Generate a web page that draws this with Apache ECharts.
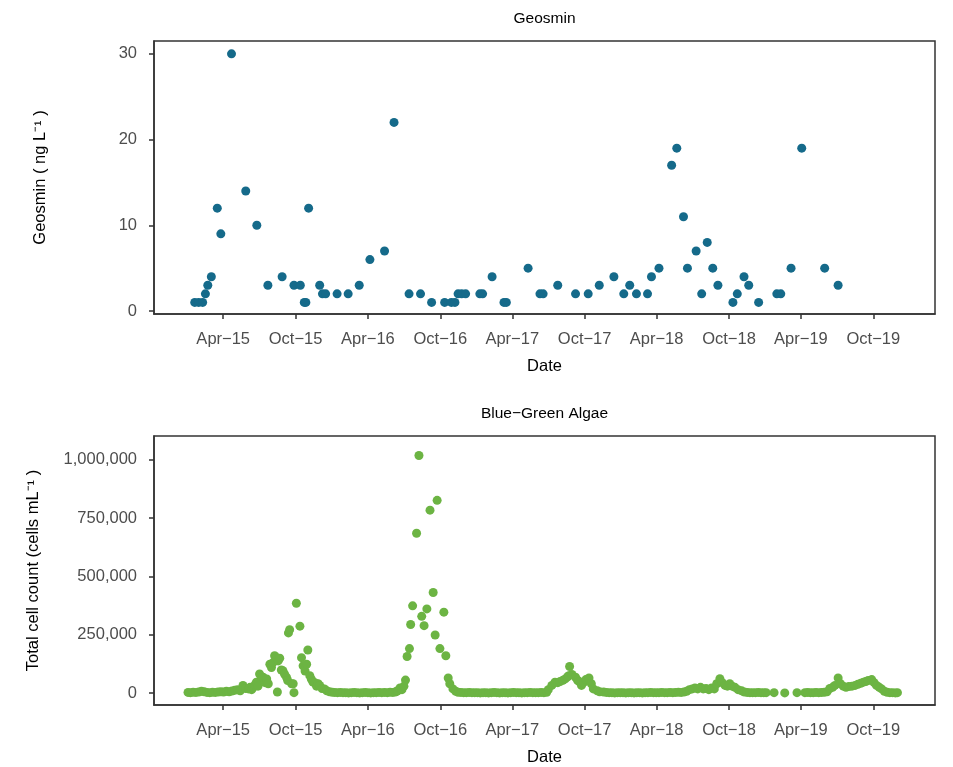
<!DOCTYPE html>
<html><head><meta charset="utf-8">
<script src="https://cdn.jsdelivr.net/npm/echarts@6/dist/echarts.min.js"></script>
<style>html,body{margin:0;padding:0;background:#fff}#c{width:953px;height:767px}</style>
</head><body><div id="c"></div>
<script>
const xTickDates = ["2015-04-01","2015-10-01","2016-04-01","2016-10-01","2017-04-01","2017-10-01","2018-04-01","2018-10-01","2019-04-01","2019-10-01"];
const xTickLabels = ["Apr\u221215","Oct\u221215","Apr\u221216","Oct\u221216","Apr\u221217","Oct\u221217","Apr\u221218","Oct\u221218","Apr\u221219","Oct\u221219"];
const geosminTicks = [0, 10, 20, 30];
const algaeTicks = [0, 250000, 500000, 750000, 1000000];

const geosminDates = ["2015-01-19","2015-01-29","2015-02-08","2015-02-15","2015-02-21","2015-03-02","2015-03-17","2015-03-26","2015-04-22","2015-05-28",
"2015-06-25","2015-07-23","2015-08-28","2015-09-27","2015-10-13","2015-10-23","2015-10-27","2015-11-03","2015-12-01","2015-12-08",
"2015-12-16","2016-01-14","2016-02-11","2016-03-10","2016-04-06","2016-05-13","2016-06-06","2016-07-14","2016-08-12","2016-09-09",
"2016-10-12","2016-10-29","2016-11-07","2016-11-15","2016-11-24","2016-12-04","2017-01-09","2017-01-16","2017-02-09","2017-03-11",
"2017-03-17","2017-05-11","2017-06-10","2017-06-18","2017-07-25","2017-09-08","2017-10-10","2017-11-07","2017-12-14","2018-01-08",
"2018-01-23","2018-02-09","2018-03-09","2018-03-19","2018-04-07","2018-05-09","2018-05-22","2018-06-08","2018-06-18","2018-07-10",
"2018-07-24","2018-08-07","2018-08-21","2018-09-03","2018-10-11","2018-10-22","2018-11-08","2018-11-20","2018-12-15","2019-01-30",
"2019-02-09","2019-03-07","2019-04-03","2019-05-31","2019-07-04"];
const geosminValues = [1,1,1,2,3,4,12,9,30,14,
10,3,4,3,3,1,1,12,3,2,
2,2,2,3,6,7,22,2,2,1,
1,1,1,2,2,2,2,2,4,1,
1,5,2,2,3,2,2,3,4,2,
3,2,2,4,5,17,19,11,5,7,
2,8,5,3,1,2,4,3,1,2,
2,5,19,5,3];

const algaeSamples = [
["2015-01-02",3000],["2015-01-08",2000],["2015-01-15",4000],["2015-01-22",3000],["2015-01-29",5000],
["2015-02-05",8000],["2015-02-12",6000],["2015-02-19",3000],["2015-02-26",2000],
["2015-03-05",4000],["2015-03-12",3000],["2015-03-19",5000],["2015-03-26",6000],
["2015-04-02",5000],["2015-04-09",8000],["2015-04-16",6000],["2015-04-23",9000],["2015-04-30",12000],
["2015-05-07",15000],["2015-05-14",10000],["2015-05-21",33000],["2015-05-28",20000],
["2015-06-04",18000],["2015-06-08",25000],["2015-06-12",15000],["2015-06-16",25000],["2015-06-20",35000],["2015-06-24",47000],["2015-06-28",30000],
["2015-07-02",82000],["2015-07-07",55000],["2015-07-11",68000],["2015-07-16",45000],["2015-07-20",61000],["2015-07-24",40000],["2015-07-28",124000],
["2015-08-01",110000],["2015-08-05",131000],["2015-08-09",160000],["2015-08-14",152000],["2015-08-16",5000],["2015-08-18",138000],["2015-08-22",150000],["2015-08-26",99000],["2015-08-30",96000],
["2015-09-03",82000],["2015-09-08",68000],["2015-09-11",54000],["2015-09-13",258000],["2015-09-16",272000],["2015-09-21",40000],["2015-09-25",40000],["2015-09-27",2000],
["2015-10-03",385000],["2015-10-12",287000],["2015-10-16",152000],["2015-10-20",117000],["2015-10-25",95000],["2015-10-29",124000],
["2015-11-01",185000],["2015-11-06",75000],["2015-11-10",60000],["2015-11-14",47000],["2015-11-19",45000],["2015-11-23",30000],["2015-11-27",40000],
["2015-12-01",33000],["2015-12-07",20000],["2015-12-13",18000],["2015-12-19",10000],["2015-12-26",6000],
["2016-01-02",4000],["2016-01-08",3000],["2016-01-15",2000],["2016-01-22",3000],["2016-01-29",2000],
["2016-02-05",2000],["2016-02-12",1000],["2016-02-19",2000],["2016-02-26",3000],
["2016-03-04",2000],["2016-03-11",1000],["2016-03-18",2000],["2016-03-25",3000],
["2016-04-01",2000],["2016-04-08",1000],["2016-04-15",2000],["2016-04-22",2000],["2016-04-29",3000],
["2016-05-06",2000],["2016-05-13",3000],["2016-05-20",2000],["2016-05-27",4000],
["2016-06-03",3000],["2016-06-09",5000],["2016-06-13",8000],["2016-06-16",11000],["2016-06-21",22000],["2016-06-26",15000],
["2016-07-01",30000],["2016-07-05",56000],["2016-07-09",157000],["2016-07-15",191000],["2016-07-18",294000],["2016-07-23",374000],
["2016-08-02",685000],["2016-08-08",1018000],["2016-08-15",329000],["2016-08-21",289000],["2016-08-28",361000],
["2016-09-05",784000],["2016-09-13",431000],["2016-09-18",249000],["2016-09-23",826000],["2016-09-30",191000],
["2016-10-10",347000],["2016-10-15",160000],["2016-10-21",65000],["2016-10-25",40000],
["2016-11-02",18000],["2016-11-09",8000],["2016-11-15",4000],["2016-11-22",3000],["2016-11-29",2000],
["2016-12-06",2000],["2016-12-13",3000],["2016-12-20",2000],["2016-12-27",2000],
["2017-01-03",2000],["2017-01-10",1000],["2017-01-17",2000],["2017-01-24",2000],["2017-01-31",1000],
["2017-02-07",2000],["2017-02-14",3000],["2017-02-21",2000],["2017-02-28",1000],
["2017-03-07",2000],["2017-03-14",2000],["2017-03-21",1000],["2017-03-28",2000],
["2017-04-04",3000],["2017-04-11",2000],["2017-04-18",2000],["2017-04-25",1000],
["2017-05-02",2000],["2017-05-09",2000],["2017-05-16",3000],["2017-05-23",2000],["2017-05-30",2000],
["2017-06-06",2000],["2017-06-13",3000],["2017-06-20",2000],["2017-06-27",4000],
["2017-07-01",15000],["2017-07-10",33000],["2017-07-18",47000],["2017-07-25",45000],["2017-07-31",50000],
["2017-08-07",55000],["2017-08-13",61000],["2017-08-19",70000],["2017-08-22",75000],["2017-08-24",114000],["2017-08-30",80000],
["2017-09-08",68000],["2017-09-13",55000],["2017-09-17",50000],["2017-09-23",33000],["2017-09-28",45000],
["2017-10-04",58000],["2017-10-12",65000],["2017-10-18",40000],["2017-10-23",18000],
["2017-11-02",10000],["2017-11-08",6000],["2017-11-18",5000],["2017-11-25",3000],
["2017-12-02",2000],["2017-12-09",2000],["2017-12-16",1000],["2017-12-23",2000],["2017-12-30",2000],
["2018-01-06",2000],["2018-01-13",1000],["2018-01-20",2000],["2018-01-27",2000],
["2018-02-03",1000],["2018-02-10",2000],["2018-02-17",2000],["2018-02-24",1000],
["2018-03-03",2000],["2018-03-10",2000],["2018-03-17",3000],["2018-03-24",2000],["2018-03-31",2000],
["2018-04-07",2000],["2018-04-14",3000],["2018-04-21",2000],["2018-04-28",2000],
["2018-05-05",3000],["2018-05-12",2000],["2018-05-19",3000],["2018-05-26",4000],
["2018-06-02",3000],["2018-06-09",5000],["2018-06-16",8000],["2018-06-23",15000],["2018-06-30",18000],
["2018-07-07",22000],["2018-07-14",18000],["2018-07-21",25000],["2018-07-28",18000],
["2018-08-04",20000],["2018-08-11",15000],["2018-08-18",22000],["2018-08-25",18000],["2018-08-31",40000],
["2018-09-08",62000],["2018-09-14",45000],["2018-09-21",33000],["2018-09-27",30000],
["2018-10-03",40000],["2018-10-09",30000],["2018-10-16",25000],["2018-10-24",15000],
["2018-11-02",10000],["2018-11-09",5000],["2018-11-16",3000],["2018-11-23",2000],["2018-11-30",2000],
["2018-12-07",2000],["2018-12-14",3000],["2018-12-21",2000],["2018-12-28",2000],
["2019-01-03",2000],["2019-01-23",2000],["2019-02-19",1000],["2019-03-22",2000],
["2019-04-11",2000],["2019-04-18",3000],["2019-04-25",2000],
["2019-05-02",2000],["2019-05-09",3000],["2019-05-16",2000],["2019-05-23",3000],["2019-05-30",4000],
["2019-06-06",6000],["2019-06-13",20000],["2019-06-20",25000],["2019-06-26",33000],
["2019-07-04",65000],["2019-07-10",40000],["2019-07-17",30000],["2019-07-24",25000],["2019-07-31",28000],
["2019-08-08",30000],["2019-08-16",33000],["2019-08-23",38000],["2019-08-30",42000],
["2019-09-06",47000],["2019-09-12",50000],["2019-09-18",54000],["2019-09-27",58000],
["2019-10-03",45000],["2019-10-09",33000],["2019-10-16",25000],["2019-10-22",18000],["2019-10-29",8000],
["2019-11-05",4000],["2019-11-12",2000],["2019-11-19",2000],["2019-11-26",1000],["2019-12-01",2000]
];

function ts(s) { const p = s.split('-').map(Number); return Date.UTC(p[0], p[1] - 1, p[2]); }
const tickTs = xTickDates.map(ts);
const FONT = "'Liberation Sans', Arial, sans-serif";
const AX = '#333333';
const LBL = '#4d4d4d';
const TICK_FS = 16.5;
const NAME_FS = 16.5;

function xAxisCfg(gi) {
  return {
    type: 'value', gridIndex: gi,
    min: ts('2014-10-08'), max: ts('2020-03-05'),
    name: 'Date', nameLocation: 'middle', nameGap: 44,
    nameTextStyle: { color: '#000', fontSize: NAME_FS, fontFamily: FONT },
    axisLine: { show: true, onZero: false, lineStyle: { color: AX, width: 1.5 } },
    axisTick: { show: true, length: 5, inside: false, customValues: tickTs, lineStyle: { color: AX, width: 1.5 } },
    axisLabel: { show: true, customValues: tickTs, margin: 17, color: LBL, fontSize: TICK_FS, fontFamily: FONT,
      formatter: function (v) { const i = tickTs.indexOf(v); return i >= 0 ? xTickLabels[i] : ''; } },
    splitLine: { show: false }
  };
}

function yAxisCfg(gi, min, max, ticks, name, gap, fmt) {
  return {
    type: 'value', gridIndex: gi, min: min, max: max,
    name: name, nameLocation: 'middle', nameGap: gap,
    nameTextStyle: { color: '#000', fontSize: NAME_FS, fontFamily: FONT },
    axisLine: { show: true, onZero: false, lineStyle: { color: AX, width: 1.5 } },
    axisTick: { show: true, length: 5, customValues: ticks, lineStyle: { color: AX, width: 1.5 } },
    axisLabel: { show: true, customValues: ticks, margin: 17, color: LBL, fontSize: TICK_FS, fontFamily: FONT, formatter: fmt },
    splitLine: { show: false }
  };
}

const chart = echarts.init(document.getElementById('c'), null, { renderer: 'canvas' });
chart.setOption({
  animation: false,
  backgroundColor: '#ffffff',
  grid: [
    { left: 154, right: 18, top: 41, height: 273, show: true, borderColor: AX, borderWidth: 1.5, backgroundColor: 'transparent' },
    { left: 154, right: 18, top: 436, height: 272, show: true, borderColor: AX, borderWidth: 1.5, backgroundColor: 'transparent' }
  ],
  xAxis: [xAxisCfg(0), xAxisCfg(1)],
  yAxis: [
    yAxisCfg(0, -0.35, 31.5, geosminTicks, 'Geosmin ( ng L\u207B\u00B9 )', 105, function (v) { return String(v); }),
    yAxisCfg(1, -50800, 1101700, algaeTicks, 'Total cell count (cells mL\u207B\u00B9 )', 112,
      function (v) { return Math.round(v).toLocaleString('en-US'); })
  ],
  graphic: [
    { type: 'text', x: 544.5, y: 19, style: { text: 'Geosmin', fill: '#000', font: '15.5px ' + FONT, align: 'center', verticalAlign: 'middle' } },
    { type: 'text', x: 544.5, y: 414, style: { text: 'Blue\u2212Green Algae', fill: '#000', font: '15.5px ' + FONT, align: 'center', verticalAlign: 'middle' } }
  ],
  series: [
    { type: 'scatter', xAxisIndex: 0, yAxisIndex: 0, symbolSize: 9,
      itemStyle: { color: '#156a8a', opacity: 1 },
      data: geosminDates.map(function (d, i) { return [ts(d), geosminValues[i]]; }) },
    { type: 'scatter', xAxisIndex: 1, yAxisIndex: 1, symbolSize: 9,
      itemStyle: { color: '#6cb443', opacity: 1 },
      data: algaeSamples.map(function (r) { return [ts(r[0]), r[1]]; }) }
  ]
});
</script>
</body></html>
